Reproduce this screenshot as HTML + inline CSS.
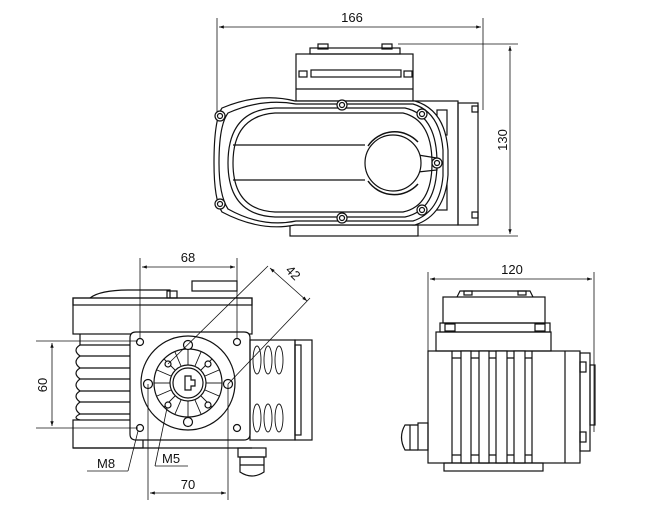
<!DOCTYPE html>
<html><head><style>
html,body{margin:0;padding:0;background:#fff;width:650px;height:511px;overflow:hidden}
svg{display:block}
text{font-family:"Liberation Sans",sans-serif;font-size:13px;fill:#111}
</style></head><body>
<svg width="650" height="511" viewBox="0 0 650 511" xmlns="http://www.w3.org/2000/svg">
<defs>
<marker id="a" viewBox="0 0 10 10" refX="10" refY="5" markerWidth="8" markerHeight="6" orient="auto-start-reverse"><path d="M0,1.5 L10,5 L0,8.5 z" fill="#111"/></marker>
</defs>
<g fill="none" stroke="#111" stroke-width="1.2">
<!-- ===== TOP VIEW ===== -->
<line x1="217" y1="18" x2="217" y2="120" stroke-width="0.8"/>
<line x1="483" y1="18" x2="483" y2="110" stroke-width="0.8"/>
<line x1="219" y1="27" x2="481" y2="27" stroke-width="0.8" marker-start="url(#a)" marker-end="url(#a)"/>
<line x1="398" y1="44" x2="518" y2="44" stroke-width="0.8"/>
<line x1="290" y1="236" x2="518" y2="236" stroke-width="0.8"/>
<line x1="510" y1="46" x2="510" y2="234" stroke-width="0.8" marker-start="url(#a)" marker-end="url(#a)"/>
<rect x="310" y="48" width="90" height="6"/>
<rect x="318" y="44" width="10" height="5"/>
<rect x="382" y="44" width="10" height="5"/>
<rect x="296" y="54" width="117" height="47"/>
<rect x="311" y="70" width="90" height="7"/>
<rect x="299" y="71" width="8" height="6"/>
<rect x="404" y="71" width="8" height="6"/>
<line x1="296" y1="89" x2="413" y2="89"/>
<rect x="413" y="101" width="45" height="124"/>
<rect x="458" y="103" width="20" height="122"/>
<rect x="472" y="106" width="6" height="6"/>
<rect x="472" y="212" width="6" height="6"/>
<rect x="437" y="110" width="10" height="25"/>
<rect x="437" y="183" width="10" height="27"/>
<rect x="290" y="225" width="128" height="11"/>
<path d="M222,108 Q260,92 295,101 L415,101 Q445,110 448,150 L448,175 Q445,215 415,225 L295,225 Q260,232 222,212 Q214,200 214,163 Q214,120 222,108 Z" fill="#fff"/>
<path d="M228,113 Q262,98 296,104 L413,104 Q440,112 443,150 L443,176 Q440,212 413,221 L296,221 Q262,228 228,209 Q219,195 219,163 Q219,125 228,113 Z"/>
<path d="M275,108 L405,108 Q437,115 437,163 Q437,210 405,217 L275,217 Q228,215 228,163 Q228,110 275,108 Z"/>
<path d="M275,113 L403,113 Q432,120 432,163 Q432,206 403,212 L275,212 Q233,210 233,163 Q233,116 275,113 Z"/>
<line x1="233" y1="145" x2="365" y2="145"/>
<line x1="233" y1="180" x2="365" y2="180"/>
<path d="M418,155 L437,158 L437,170 L418,172"/>
<circle cx="393" cy="163" r="28" fill="#fff"/>
<path d="M368,146 A32,32 0 0 1 418,142" stroke-width="1.5"/>
<path d="M368,181 A32,32 0 0 0 418,184" stroke-width="1.5"/>
<g fill="#fff">
<circle cx="220" cy="116" r="5"/><circle cx="220" cy="116" r="2.5"/>
<circle cx="220" cy="204" r="5"/><circle cx="220" cy="204" r="2.5"/>
<circle cx="342" cy="105" r="5"/><circle cx="342" cy="105" r="2.5"/>
<circle cx="342" cy="218" r="5"/><circle cx="342" cy="218" r="2.5"/>
<circle cx="422" cy="114" r="5"/><circle cx="422" cy="114" r="2.5"/>
<circle cx="422" cy="210" r="5"/><circle cx="422" cy="210" r="2.5"/>
<circle cx="437" cy="163" r="5"/><circle cx="437" cy="163" r="2.5"/>
</g>

<!-- ===== BOTTOM LEFT VIEW ===== -->
<rect x="192" y="281" width="45" height="10"/>
<path d="M90,298 Q100,290 130,290 L170,290 L170,298"/>
<rect x="167" y="291" width="10" height="7"/>
<rect x="73" y="298" width="179" height="36"/>
<rect x="73" y="298" width="179" height="7"/>
<rect x="73" y="420" width="70" height="28"/>
<line x1="73" y1="448" x2="252" y2="448"/>
<path d="M80,345 L130,345 M80,356 L130,356 M80,368 L130,368 M80,379 L130,379 M80,391 L130,391 M80,402 L130,402 M80,414 L130,414"/>
<path d="M80,345 Q72,350 80,356 M80,356 Q72,362 80,368 M80,368 Q72,373 80,379 M80,379 Q72,385 80,391 M80,391 Q72,396 80,402 M80,402 Q72,408 80,414 M80,414 Q72,418 80,420"/>
<line x1="80" y1="334" x2="80" y2="345"/>
<path d="M136,332 L244,332 Q250,332 250,338 L250,434 Q250,440 244,440 L136,440 Q130,440 130,434 L130,338 Q130,332 136,332 Z" fill="#fff"/>
<circle cx="140" cy="342" r="3.5"/><circle cx="237" cy="342" r="3.5"/>
<circle cx="140" cy="428" r="3.5"/><circle cx="237" cy="428" r="3.5"/>
<circle cx="188" cy="383" r="47"/>
<circle cx="188" cy="383" r="34"/>
<circle cx="188" cy="383" r="18"/>
<circle cx="188" cy="383" r="15"/>
<path d="M185,376 L191,376 L191,380 L195,380 L195,386 L191,386 L191,390 L185,390 Z"/>
<g stroke-width="0.9">
<line x1="188" y1="349" x2="188" y2="365"/><line x1="188" y1="401" x2="188" y2="417"/>
<line x1="154" y1="383" x2="170" y2="383"/><line x1="206" y1="383" x2="222" y2="383"/>
<line x1="164" y1="359" x2="175" y2="370"/><line x1="212" y1="359" x2="201" y2="370"/>
<line x1="164" y1="407" x2="175" y2="396"/><line x1="212" y1="407" x2="201" y2="396"/>
<line x1="175" y1="352" x2="181" y2="366"/><line x1="201" y1="352" x2="195" y2="366"/>
<line x1="175" y1="414" x2="181" y2="400"/><line x1="201" y1="414" x2="195" y2="400"/>
<line x1="157" y1="370" x2="171" y2="376"/><line x1="219" y1="370" x2="205" y2="376"/>
<line x1="157" y1="396" x2="171" y2="390"/><line x1="219" y1="396" x2="205" y2="390"/>
</g>
<g fill="#fff">
<circle cx="148" cy="384" r="4.5"/><circle cx="228" cy="384" r="4.5"/>
<circle cx="188" cy="345" r="4.5"/><circle cx="188" cy="422" r="4.5"/>
<circle cx="168" cy="364" r="3"/><circle cx="208" cy="364" r="3"/>
<circle cx="168" cy="405" r="3"/><circle cx="208" cy="405" r="3"/>
</g>
<rect x="250" y="340" width="45" height="100"/>
<rect x="295" y="340" width="17" height="100"/>
<rect x="295" y="345" width="6" height="90"/>
<g stroke-width="0.9">
<ellipse cx="257" cy="360" rx="4" ry="14"/><ellipse cx="268" cy="360" rx="4" ry="14"/><ellipse cx="279" cy="360" rx="4" ry="14"/>
<ellipse cx="257" cy="418" rx="4" ry="14"/><ellipse cx="268" cy="418" rx="4" ry="14"/><ellipse cx="279" cy="418" rx="4" ry="14"/>
</g>
<rect x="238" y="448" width="28" height="9"/>
<path d="M240,457 L264,457 L264,472 Q252,480 240,472 Z"/>
<line x1="240" y1="465" x2="264" y2="465"/>
<g stroke-width="0.8">
<line x1="140" y1="258" x2="140" y2="338"/>
<line x1="237" y1="258" x2="237" y2="338"/>
<line x1="142" y1="267" x2="235" y2="267" marker-start="url(#a)" marker-end="url(#a)"/>
<line x1="36" y1="341" x2="138" y2="341"/>
<line x1="36" y1="428" x2="138" y2="428"/>
<line x1="52" y1="343" x2="52" y2="426" marker-start="url(#a)" marker-end="url(#a)"/>
<line x1="148" y1="384" x2="148" y2="500"/>
<line x1="228" y1="384" x2="228" y2="500"/>
<line x1="150" y1="493" x2="226" y2="493" marker-start="url(#a)" marker-end="url(#a)"/>
<line x1="168" y1="364" x2="268" y2="266"/>
<line x1="228" y1="384" x2="310" y2="298"/>
<line x1="270" y1="268" x2="307" y2="301" marker-start="url(#a)" marker-end="url(#a)"/>
<line x1="87" y1="471" x2="128" y2="471"/>
<line x1="128" y1="471" x2="138" y2="431"/>
<line x1="155" y1="466" x2="188" y2="466"/>
<line x1="155" y1="466" x2="167" y2="408"/>
</g>

<!-- ===== RIGHT VIEW ===== -->
<g stroke-width="0.8">
<line x1="428" y1="272" x2="428" y2="352"/>
<line x1="594" y1="272" x2="594" y2="432"/>
<line x1="430" y1="279" x2="592" y2="279" marker-start="url(#a)" marker-end="url(#a)"/>
</g>
<path d="M457,297 L460,291 L530,291 L533,297"/>
<rect x="464" y="291" width="8" height="4"/><rect x="518" y="291" width="8" height="4"/>
<rect x="443" y="297" width="102" height="26"/>
<rect x="440" y="323" width="110" height="9"/>
<rect x="445" y="324" width="10" height="7"/><rect x="535" y="324" width="10" height="7"/>
<rect x="436" y="332" width="115" height="19"/>
<rect x="428" y="351" width="152" height="112"/>
<line x1="452" y1="351" x2="452" y2="463"/>
<line x1="452" y1="358" x2="532" y2="358"/><line x1="452" y1="455" x2="532" y2="455"/>
<rect x="461" y="351" width="10" height="112" fill="#fff"/>
<rect x="479" y="351" width="10" height="112" fill="#fff"/>
<rect x="496" y="351" width="11" height="112" fill="#fff"/>
<rect x="514" y="351" width="11" height="112" fill="#fff"/>
<line x1="532" y1="351" x2="532" y2="463"/>
<line x1="565" y1="351" x2="565" y2="463"/>
<rect x="444" y="463" width="99" height="8"/>
<rect x="580" y="353" width="10" height="98"/>
<rect x="580" y="362" width="6" height="10"/><rect x="580" y="432" width="6" height="10"/>
<rect x="590" y="365" width="5" height="60"/>
<rect x="418" y="423" width="10" height="27"/>
<path d="M418,425 L405,425 Q398,437 405,450 L418,450"/>
<line x1="410" y1="425" x2="410" y2="450"/>
</g>
<text x="352" y="22" text-anchor="middle">166</text>
<text transform="translate(507,140) rotate(-90)" text-anchor="middle">130</text>
<text x="188" y="262" text-anchor="middle">68</text>
<text transform="translate(290,276) rotate(45)" text-anchor="middle">42</text>
<text transform="translate(47,385) rotate(-90)" text-anchor="middle">60</text>
<text x="188" y="489" text-anchor="middle">70</text>
<text x="97" y="468">M8</text>
<text x="162" y="463">M5</text>
<text x="512" y="274" text-anchor="middle">120</text>
</svg>
</body></html>
